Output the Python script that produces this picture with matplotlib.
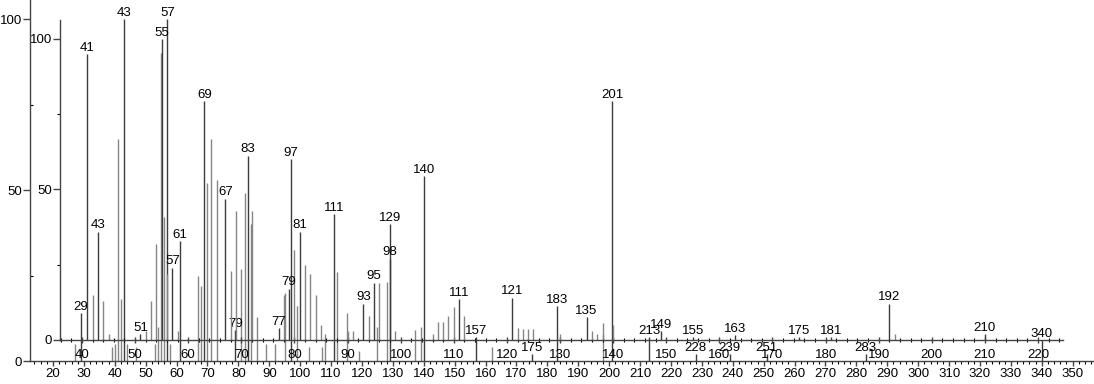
import matplotlib
matplotlib.use('Agg')
import matplotlib.pyplot as plt
from matplotlib.ticker import MultipleLocator, FixedLocator

plt.rcParams['font.family'] = ['Liberation Sans', 'DejaVu Sans']

# ---- lower (main) spectrum: m/z and relative intensity ----
main_mz = [27, 29, 39, 40, 41, 42, 43, 44, 47, 53, 54, 55, 56, 57, 58, 61,
           67, 68, 69, 70, 71, 73, 79, 81, 82, 83, 84, 86, 89, 92, 95, 97,
           99, 103, 107, 108, 111, 112, 115, 119, 125, 128, 129, 137, 139,
           140, 157, 162, 175, 183, 198, 201, 213, 228, 239, 251, 283, 340]
main_int = [5, 14, 4, 5, 65, 18, 100, 5, 4, 5, 10, 90, 42, 100, 5, 35,
            25, 22, 76, 52, 65, 53, 9, 27, 49, 60, 40, 13, 5, 5, 20, 59,
            16, 4, 4, 8, 43, 26, 14, 3, 10, 23, 40, 9, 10,
            54, 7, 4, 2, 16, 11, 76, 7, 2, 2, 2, 2, 6]
main_labels = [29, 43, 57, 61, 69, 79, 83, 97, 111, 129, 140, 157, 175, 183,
               201, 213, 228, 239, 251, 283, 340]

# ---- upper (overlaid) spectrum ----
sec_mz = [41, 42, 43, 44, 45, 51, 52, 53, 54, 55, 56, 57, 58, 67, 68, 69,
          72, 77, 78, 79, 80, 81, 82, 83, 84, 85, 90, 91, 93, 94, 95, 96,
          98, 99, 106, 107, 108, 109, 110, 111, 112, 121, 122, 123, 124,
          125, 130, 135, 136, 137, 138, 140, 149, 155, 163, 175, 181, 192,
          193, 210]
sec_int = [95, 15, 36, 13, 2, 2, 3, 13, 32, 100, 22, 24, 3, 47, 23, 43,
           43, 4, 15, 17, 30, 36, 25, 22, 15, 5, 3, 3, 12, 8, 19, 19,
           27, 3, 2, 6, 6, 8, 11, 13.5, 8, 14, 4, 3.5, 3.5,
           3.5, 2, 7.5, 3, 2, 2, 5, 3, 1, 1.5, 1, 1, 12,
           2, 2]
sec_labels = [41, 43, 51, 55, 57, 67, 77, 79, 81, 93, 95, 98, 111, 121, 135,
              149, 155, 163, 175, 181, 192, 210]

main_xticks = list(range(20, 351, 10))
sec_xticks = list(range(40, 221, 10))
y_ticks = [0, 50, 100]
y_minor = [25, 75]

W, H = 1094, 384
fig = plt.figure(figsize=(W / 100, H / 100), dpi=100)
ax_main = fig.add_axes([30 / W, (H - 361) / H, (W - 30) / W, 361 / H])
ax_sec = fig.add_axes([60 / W, (H - 340) / H, (1063 - 60) / W, 320 / H])
ax_sec.patch.set_visible(False)

LABEL_FS = 9.5
SPINE = '#444444'
DARK = '#3c3c3c'
LIGHT = '#858585'


def draw(ax, mz, inten, labels):
    cols = [DARK if m in labels else LIGHT for m in mz]
    ax.vlines(mz, 0, inten, colors=cols, linewidth=1.0)
    for m, v in zip(mz, inten):
        if m in labels:
            ax.annotate(str(m), (m, v), xytext=(0, 0.3), textcoords='offset points',
                        ha='center', va='bottom', fontsize=LABEL_FS, color='black')


draw(ax_main, main_mz, main_int, main_labels)
draw(ax_sec, sec_mz, sec_int, sec_labels)

ax_main.set_xlim(12.56, 356.9)
ax_main.set_ylim(0, 105.6)
ax_sec.set_xlim(35.86, 224.7)
ax_sec.set_ylim(0, 106.3)

for ax in (ax_main, ax_sec):
    for s in ('top', 'right'):
        ax.spines[s].set_visible(False)
    for s in ('left', 'bottom'):
        ax.spines[s].set_color(SPINE)
        ax.spines[s].set_linewidth(1.0)
    ax.yaxis.set_major_locator(FixedLocator(y_ticks))
    ax.yaxis.set_minor_locator(FixedLocator(y_minor))
    ax.xaxis.set_minor_locator(MultipleLocator(2))
    ax.tick_params(axis='both', colors=SPINE, labelcolor='black', labelsize=LABEL_FS)
    ax.tick_params(axis='y', which='major', direction='out', length=5, width=1, pad=0.8)

ax_main.xaxis.set_major_locator(FixedLocator(main_xticks))
ax_sec.xaxis.set_major_locator(FixedLocator(sec_xticks))

ax_main.tick_params(axis='x', which='major', direction='out', length=3.5, width=1, pad=1.2)
ax_main.tick_params(axis='x', which='minor', direction='out', length=2.2, width=0.8)
ax_main.tick_params(axis='y', which='minor', direction='in', length=2, width=0.8)

ax_sec.tick_params(axis='x', which='major', direction='inout', length=4.5, width=1, pad=4.2)
ax_sec.tick_params(axis='x', which='minor', direction='inout', length=2.5, width=0.8)
ax_sec.tick_params(axis='y', which='minor', direction='out', length=2, width=0.8)

fig.savefig('out.png', dpi=100)
